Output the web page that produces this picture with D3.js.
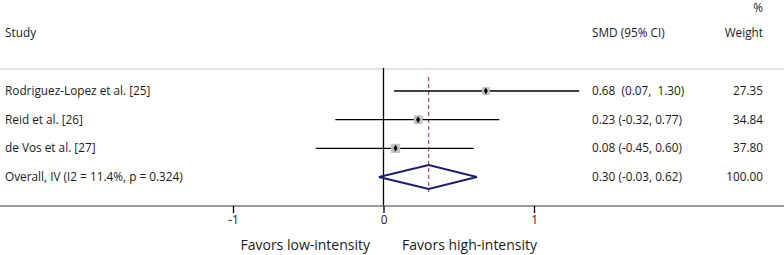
<!DOCTYPE html>
<html>
<head>
<meta charset="utf-8">
<script src="https://cdn.jsdelivr.net/npm/d3@7"></script>
<style>
  body { margin: 0; background: #fff; }
  text { font-family: "Open Sans", sans-serif; fill: #1a1a1a; white-space: pre; }
</style>
</head>
<body>
<div id="chart"></div>
<script>
// study rows
var studies = ["Rodriguez-Lopez et al. [25]", "Reid et al. [26]", "de Vos et al. [27]"];
var smd = [0.68, 0.23, 0.08];
var lower = [0.07, -0.32, -0.45];
var upper = [1.30, 0.77, 0.60];
var weights = ["27.35", "34.84", "37.80"];

// pooled estimate
var overallLabel = "Overall, IV (I2 = 11.4%, p = 0.324)";
var overall = [0.30, -0.03, 0.62]; // est, lo, hi
var overallWeight = "100.00";

var xTicks = [-1, 0, 1];

var W = 784, H = 255;
var fs = 11.8;

var svg = d3.select("#chart").append("svg")
    .attr("width", W)
    .attr("height", H);

// x scale: 0 sits at ~383px, one unit ~150px
var x = d3.scaleLinear().domain([-1, 1]).range([233, 534]);

// row positions
var rows = studies.concat([overallLabel]);
var y = d3.scalePoint().domain(d3.range(rows.length)).range([91, 177]);

var fmt = function(v) { return d3.format(".2f")(v).replace("\u2212", "-"); };
// extra (non-breaking) spaces when the lower bound has no sign, Stata style
function ciText(e, l, h) {
    var pad = l < 0 ? " " : "\u00a0\u00a0";
    return fmt(e) + pad + "(" + fmt(l) + "," + pad + fmt(h) + ")";
}

// headers
svg.append("text").attr("x", 5).attr("y", 37).attr("font-size", fs).text("Study");
svg.append("text").attr("x", 592).attr("y", 37).attr("font-size", fs).text("SMD (95% CI)");
svg.append("text").attr("x", 763).attr("y", 37).attr("font-size", fs).attr("text-anchor", "end").text("Weight");
svg.append("text").attr("x", 763).attr("y", 12).attr("font-size", fs).attr("text-anchor", "end").text("%");

// separator lines
svg.append("line")
    .attr("x1", 0).attr("x2", W).attr("y1", 69).attr("y2", 69)
    .style("stroke", "#c8c8c8").style("stroke-width", 1);

// zero line
svg.append("line")
    .attr("x1", x(0)).attr("x2", x(0)).attr("y1", 68).attr("y2", 206)
    .style("stroke", "#000").style("stroke-width", 1.3);

// pooled effect dashed line
svg.append("line")
    .attr("x1", x(overall[0])).attr("x2", x(overall[0])).attr("y1", 77).attr("y2", 192)
    .style("stroke", "#a33f4c").style("stroke-width", 1.1)
    .style("stroke-dasharray", "4,3");

// study rows
var g = svg.selectAll(".study").data(studies).enter().append("g").attr("class", "study");

g.append("text")
    .attr("x", 5).attr("y", function(d, i) { return y(i) + 4; })
    .attr("font-size", fs)
    .text(function(d) { return d; });

g.append("line")
    .attr("x1", function(d, i) { return x(lower[i]); })
    .attr("x2", function(d, i) { return x(upper[i]); })
    .attr("y1", function(d, i) { return y(i); })
    .attr("y2", function(d, i) { return y(i); })
    .style("stroke", "#000").style("stroke-width", 1.4);

g.append("rect")
    .attr("x", function(d, i) { return x(smd[i]) - Math.sqrt(+weights[i]) * 0.75; })
    .attr("y", function(d, i) { return y(i) - Math.sqrt(+weights[i]) * 0.75; })
    .attr("width", function(d, i) { return Math.sqrt(+weights[i]) * 1.5; })
    .attr("height", function(d, i) { return Math.sqrt(+weights[i]) * 1.5; })
    .style("fill", "#c4c4c4");

g.append("path")
    .attr("d", d3.symbol().type(d3.symbolDiamond).size(14))
    .attr("transform", function(d, i) { return "translate(" + x(smd[i]) + "," + y(i) + ")"; })
    .style("fill", "#000");

g.append("text")
    .attr("x", 592).attr("y", function(d, i) { return y(i) + 4; })
    .attr("font-size", fs)
    .text(function(d, i) { return ciText(smd[i], lower[i], upper[i]); });

g.append("text")
    .attr("x", 763).attr("y", function(d, i) { return y(i) + 4; })
    .attr("font-size", fs).attr("text-anchor", "end")
    .text(function(d, i) { return weights[i]; });

// overall row
var oy = y(studies.length);
svg.append("text").attr("x", 5).attr("y", oy + 4).attr("font-size", fs).text(overallLabel);

svg.append("path")
    .attr("d", d3.line()([
        [x(overall[1]), oy], [x(overall[0]), oy - 12],
        [x(overall[2]), oy], [x(overall[0]), oy + 12]
    ]) + "Z")
    .style("fill", "none").style("stroke", "#1a1f78").style("stroke-width", 2);

svg.append("text").attr("x", 592).attr("y", oy + 4).attr("font-size", fs)
    .text(ciText(overall[0], overall[1], overall[2]));
svg.append("text").attr("x", 763).attr("y", oy + 4).attr("font-size", fs)
    .attr("text-anchor", "end").text(overallWeight);

// bottom axis
svg.append("line")
    .attr("x1", 0).attr("x2", W).attr("y1", 206).attr("y2", 206)
    .style("stroke", "#777").style("stroke-width", 1.3);

var xAxis = d3.axisBottom(x).tickValues(xTicks).tickSize(7).tickPadding(3)
    .tickFormat(function(d) { return String(d); });

var ax = svg.append("g")
    .attr("transform", "translate(0,206)")
    .call(xAxis);
ax.select(".domain").remove();
ax.selectAll(".tick line").style("stroke", "#000").style("stroke-width", 1.3);
ax.selectAll(".tick text")
    .style("font-family", "Open Sans, sans-serif")
    .style("font-size", fs + "px")
    .style("fill", "#1a1a1a");

// favours labels
svg.append("text").attr("x", 370).attr("y", 250).attr("font-size", 14)
    .attr("text-anchor", "end").text("Favors low-intensity");
svg.append("text").attr("x", 402).attr("y", 250).attr("font-size", 14)
    .text("Favors high-intensity");
</script>
</body>
</html>
